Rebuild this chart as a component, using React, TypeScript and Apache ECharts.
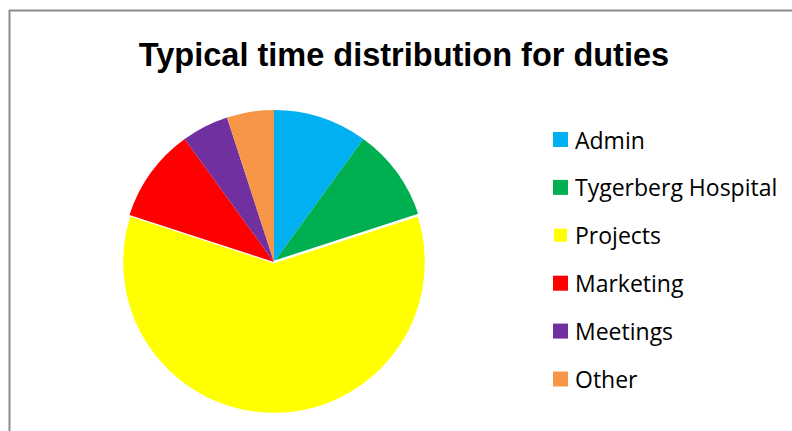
import React, { useEffect, useRef } from "react";
import * as echarts from "echarts";

const categories = ["Admin", "Tygerberg Hospital", "Projects", "Marketing", "Meetings", "Other"];
const values = [10, 10, 60, 10, 5, 5];
const colors = ["#00B0F0", "#00B050", "#FFFF00", "#FF0000", "#7030A0", "#F79646"];
const titleText = "Typical time distribution for duties";

export default function App() {
  const ref = useRef<HTMLDivElement>(null);
  useEffect(() => {
    if (!ref.current) return;
    const chart = echarts.init(ref.current, null, { renderer: "svg" });
    chart.setOption({
      animation: false,
      backgroundColor: "#ffffff",
      title: {
        text: titleText,
        left: 404,
        textAlign: "center",
        top: 38,
        padding: 0,
        textStyle: { fontFamily: "Liberation Sans", fontWeight: "bold", fontSize: 32.5, color: "#000" },
      },
      legend: {
        orient: "vertical",
        left: 552,
        top: 128,
        padding: 0,
        itemWidth: 15,
        itemHeight: 15,
        itemGap: 24.9,
        icon: "rect",
        data: categories,
        textStyle: { fontFamily: "Open Sans", fontSize: 23, lineHeight: 22, color: "#000", padding: [0, 0, 0, 2] },
      },
      graphic: [
        { type: "line", shape: { x1: 9.5, y1: 10, x2: 9.5, y2: 431 }, style: { stroke: "#8c8c8c", lineWidth: 2 } },
        { type: "line", shape: { x1: 9, y1: 10.5, x2: 792, y2: 10.5 }, style: { stroke: "#8c8c8c", lineWidth: 2 } },
      ],
      series: [
        {
          type: "pie",
          center: [274, 262],
          radius: 152,
          startAngle: 90,
          clockwise: true,
          label: { show: false },
          labelLine: { show: false },
          data: categories.map((name, i) => ({
            name,
            value: values[i],
            itemStyle: {
              color: colors[i],
              borderColor: "#ffffff",
              borderWidth: name === "Projects" ? 2.5 : 0,
            },
          })),
        },
      ],
    });
    return () => chart.dispose();
  }, []);
  return (
    <div style={{ position: "fixed", left: 0, top: 0, width: 792, height: 431 }}>
      <div ref={ref} style={{ width: 792, height: 431 }} />
    </div>
  );
}
